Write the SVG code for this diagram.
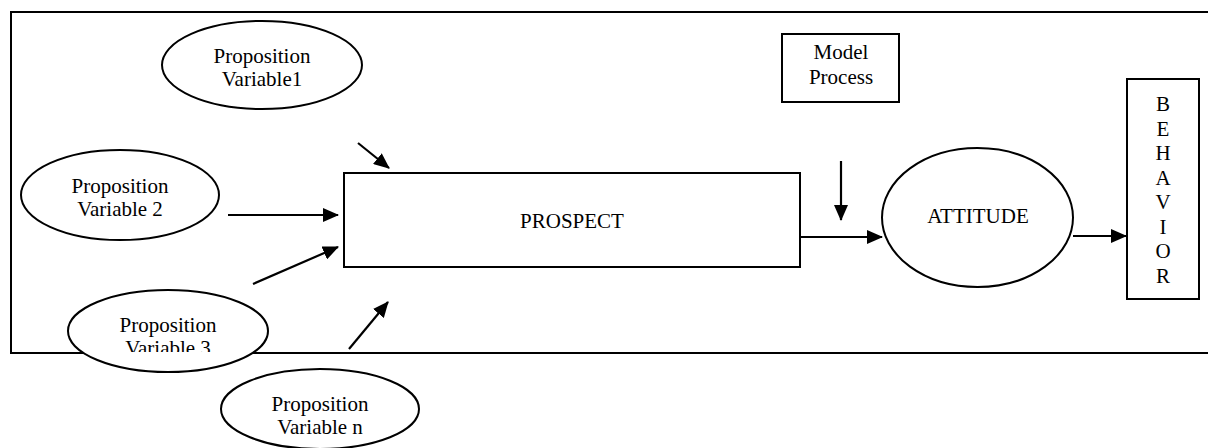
<svg xmlns="http://www.w3.org/2000/svg" width="1208" height="448" viewBox="0 0 1208 448">
<defs>
<style>
.sh{fill:#fff;stroke:#000;stroke-width:2}
.ln{fill:none;stroke:#000;stroke-width:2}
.cn{fill:none;stroke:#000;stroke-width:2.2;marker-end:url(#ah)}
text{font-family:"Liberation Serif","Times New Roman",serif;font-size:21px;fill:#000;text-anchor:middle}
</style>
<marker id="ah" markerUnits="userSpaceOnUse" markerWidth="16" markerHeight="14" refX="15" refY="7" orient="auto">
<path d="M0,0 L16,7 L0,14 z" fill="#000"/>
</marker>
<clipPath id="clip3"><rect x="0" y="0" width="1208" height="352"/></clipPath>
</defs>
<g id="frame">
<path class="ln" d="M1208,12 H11 V353 H1208"/>
</g>
<g id="pv1">
<ellipse class="sh" cx="262" cy="65" rx="100" ry="44"/>
<text x="262" y="63">Proposition</text>
<text x="262" y="86">Variable1</text>
</g>
<g id="pv2">
<ellipse class="sh" cx="120" cy="195" rx="99" ry="45"/>
<text x="120" y="193">Proposition</text>
<text x="120" y="216">Variable 2</text>
</g>
<g id="pv3">
<ellipse class="sh" cx="168" cy="331" rx="100" ry="41"/>
<text x="168" y="332">Proposition</text>
<text x="168" y="355" clip-path="url(#clip3)">Variable 3</text>
</g>
<g id="pvn">
<ellipse class="sh" cx="320" cy="409" rx="99" ry="40"/>
<text x="320" y="411">Proposition</text>
<text x="320" y="434">Variable n</text>
</g>
<g id="prospect">
<rect class="sh" x="344" y="173" width="456" height="94"/>
<text x="572" y="228">PROSPECT</text>
</g>
<g id="model">
<rect class="sh" x="782" y="34" width="117" height="68"/>
<text x="841" y="59">Model</text>
<text x="841" y="84">Process</text>
</g>
<g id="attitude">
<ellipse class="sh" cx="977.5" cy="217.5" rx="95.5" ry="69.5"/>
<text x="978" y="223">ATTITUDE</text>
</g>
<g id="behavior">
<rect class="sh" x="1127" y="79" width="72" height="220"/>
<text x="1163" y="111">B</text>
<text x="1163" y="136">E</text>
<text x="1163" y="160">H</text>
<text x="1163" y="185">A</text>
<text x="1163" y="209">V</text>
<text x="1163" y="234">I</text>
<text x="1163" y="258">O</text>
<text x="1163" y="283">R</text>
</g>
<g id="connectors">
<line class="cn" x1="358" y1="143" x2="389" y2="168"/>
<line class="cn" x1="228" y1="215" x2="338" y2="215"/>
<line class="cn" x1="253" y1="284" x2="338" y2="247"/>
<line class="cn" x1="349" y1="349" x2="388" y2="302"/>
<line class="cn" x1="841" y1="161" x2="841" y2="220"/>
<line class="cn" x1="800" y1="237" x2="882" y2="237"/>
<line class="cn" x1="1073" y1="236" x2="1126" y2="236"/>
</g>
</svg>
